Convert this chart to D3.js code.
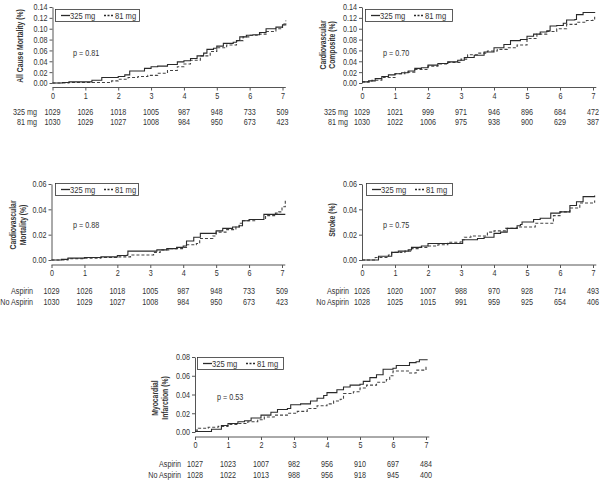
<!DOCTYPE html>
<html><head><meta charset="utf-8">
<script src="https://cdn.jsdelivr.net/npm/d3@7"></script>
<style>
body{margin:0;background:#fff;}
text{font-family:"Liberation Sans",Arial,sans-serif;fill:#333;}
</style></head>
<body><svg id="c" width="602" height="480"></svg>
<script>
const xTicks = [0,1,2,3,4,5,6,7];
const seriesNames = ["325 mg","81 mg"];

// All cause mortality
const acm325 = [[0,0],[0.3,0.001],[0.5,0.002],[1.0,0.002],[1.2,0.005],[1.5,0.01],[1.8,0.01],[2.0,0.012],[2.2,0.015],[2.35,0.022],[2.6,0.022],[2.8,0.027],[3.0,0.03],[3.2,0.031],[3.5,0.034],[3.8,0.039],[4.0,0.041],[4.2,0.045],[4.4,0.05],[4.6,0.055],[4.7,0.062],[4.9,0.064],[5.0,0.068],[5.2,0.073],[5.5,0.075],[5.6,0.078],[5.7,0.085],[5.9,0.088],[6.1,0.089],[6.3,0.093],[6.5,0.1],[6.8,0.103],[7.0,0.107],[7.05,0.11]];
const acm81 = [[0,0],[0.5,0.001],[1.5,0.001],[1.8,0.004],[2.0,0.007],[2.3,0.01],[2.6,0.012],[2.9,0.014],[3.2,0.018],[3.5,0.023],[3.8,0.03],[4.0,0.035],[4.2,0.042],[4.5,0.05],[4.8,0.058],[5.0,0.065],[5.3,0.07],[5.6,0.078],[5.8,0.085],[6.0,0.088],[6.3,0.09],[6.5,0.095],[6.8,0.1],[7.0,0.107],[7.1,0.115]];
const acmRisk325 = [1029,1026,1018,1005,987,948,733,509];
const acmRisk81  = [1030,1029,1027,1008,984,950,673,423];

// Cardiovascular composite
const cvc325 = [[0,0.002],[0.2,0.004],[0.4,0.008],[0.6,0.012],[0.8,0.015],[1.0,0.017],[1.2,0.019],[1.4,0.022],[1.6,0.027],[1.8,0.028],[2.0,0.033],[2.3,0.036],[2.6,0.039],[2.9,0.042],[3.1,0.047],[3.4,0.051],[3.7,0.057],[4.0,0.065],[4.3,0.071],[4.5,0.078],[4.8,0.08],[5.0,0.086],[5.2,0.09],[5.4,0.094],[5.6,0.096],[5.7,0.105],[5.9,0.106],[6.1,0.11],[6.2,0.116],[6.45,0.117],[6.5,0.126],[6.7,0.13],[7.05,0.129]];
const cvc81 = [[0,0.002],[0.3,0.005],[0.6,0.01],[1.0,0.017],[1.3,0.02],[1.6,0.025],[2.0,0.031],[2.3,0.035],[2.6,0.038],[3.0,0.044],[3.2,0.052],[3.5,0.055],[3.8,0.059],[4.1,0.062],[4.4,0.065],[4.7,0.07],[5.0,0.082],[5.3,0.09],[5.6,0.095],[5.9,0.1],[6.2,0.108],[6.5,0.112],[6.8,0.115],[7.0,0.116],[7.05,0.122]];
const cvcRisk325 = [1029,1021,999,971,946,896,684,472];
const cvcRisk81  = [1030,1022,1006,975,938,900,629,387];

// Cardiovascular mortality
const cvm325 = [[0,0],[0.3,0.0005],[0.5,0.0015],[1.0,0.002],[1.5,0.0025],[2.0,0.0035],[2.3,0.004],[2.32,0.007],[3.0,0.007],[3.2,0.008],[3.5,0.009],[3.8,0.01],[4.0,0.011],[4.1,0.015],[4.3,0.015],[4.32,0.018],[4.5,0.018],[4.52,0.021],[4.8,0.021],[5.0,0.023],[5.2,0.025],[5.5,0.026],[5.7,0.027],[5.8,0.031],[6.0,0.032],[6.4,0.032],[6.45,0.036],[7.1,0.036]];
const cvm81 = [[0,0],[0.5,0.001],[1.0,0.0015],[1.5,0.002],[2.0,0.0025],[2.4,0.004],[3.0,0.004],[3.1,0.006],[3.3,0.008],[3.6,0.009],[4.0,0.01],[4.1,0.012],[4.4,0.013],[4.5,0.017],[4.9,0.019],[5.0,0.022],[5.3,0.024],[5.6,0.026],[5.7,0.029],[5.8,0.031],[6.2,0.032],[6.5,0.035],[6.8,0.037],[6.9,0.038],[7.0,0.042],[7.1,0.047]];
const cvmRiskA  = [1029,1026,1018,1005,987,948,733,509];
const cvmRiskNA = [1030,1029,1027,1008,984,950,673,423];

// Stroke
const str325 = [[0,0],[0.5,0.003],[0.9,0.006],[1.1,0.007],[1.4,0.008],[1.5,0.01],[1.8,0.011],[2.0,0.013],[3.0,0.013],[3.05,0.016],[3.5,0.017],[3.7,0.018],[4.0,0.021],[4.2,0.022],[4.4,0.025],[4.7,0.027],[4.8,0.028],[4.85,0.03],[5.1,0.03],[5.2,0.032],[5.4,0.033],[5.7,0.033],[5.72,0.037],[5.9,0.037],[6.0,0.038],[6.3,0.043],[6.5,0.046],[6.7,0.05],[7.05,0.051]];
const str81 = [[0,0],[0.4,0.002],[0.6,0.002],[0.8,0.004],[0.9,0.006],[1.3,0.007],[1.5,0.009],[1.7,0.01],[2.0,0.011],[2.3,0.012],[2.6,0.014],[3.0,0.016],[3.1,0.018],[3.3,0.019],[3.8,0.022],[4.0,0.023],[4.35,0.025],[4.7,0.026],[5.25,0.029],[5.8,0.035],[6.0,0.038],[6.3,0.041],[6.6,0.045],[7.0,0.045],[7.05,0.047]];
const strRiskA  = [1026,1020,1007,988,970,928,714,493];
const strRiskNA = [1028,1025,1015,991,959,925,654,406];

// Myocardial infarction
const mi325 = [[0,0.0005],[0.3,0.0005],[0.5,0.003],[0.8,0.007],[1.0,0.009],[1.3,0.011],[1.5,0.012],[1.7,0.015],[2.0,0.018],[2.3,0.021],[2.5,0.024],[2.8,0.025],[2.9,0.029],[3.2,0.03],[3.5,0.033],[3.7,0.036],[3.9,0.039],[4.0,0.042],[4.3,0.045],[4.5,0.048],[4.7,0.05],[5.0,0.051],[5.1,0.054],[5.3,0.058],[5.5,0.061],[5.7,0.067],[6.0,0.068],[6.1,0.071],[6.4,0.071],[6.5,0.074],[6.7,0.075],[6.8,0.077],[7.05,0.077]];
const mi81 = [[0,0.002],[0.1,0.004],[0.4,0.005],[0.7,0.006],[1.0,0.008],[1.3,0.009],[1.6,0.011],[1.9,0.013],[2.1,0.016],[2.4,0.018],[2.8,0.02],[3.1,0.022],[3.4,0.025],[3.7,0.028],[4.0,0.03],[4.2,0.033],[4.4,0.035],[4.5,0.041],[4.8,0.043],[5.0,0.047],[5.2,0.05],[5.5,0.053],[5.8,0.056],[5.9,0.06],[6.0,0.065],[6.3,0.065],[6.5,0.063],[6.7,0.066],[7.0,0.069],[7.05,0.07]];
const miRiskA  = [1027,1023,1007,982,956,910,697,484];
const miRiskNA = [1028,1022,1013,988,956,918,945,400];

const yTicks014 = [0,0.02,0.04,0.06,0.08,0.10,0.12,0.14];
const yTicks006 = [0,0.02,0.04,0.06];
const yTicks008 = [0,0.02,0.04,0.06,0.08];

const svg = d3.select("#c");
const SX = 0.8; // narrow-font emulation

function T(g, x, y, str, size, anchor, rot, bold) {
  return g.append("text")
    .attr("transform", `translate(${x},${y})` + (rot ? " rotate(-90)" : "") + ` scale(${SX},1)`)
    .attr("text-anchor", anchor || "start").attr("dy", "0.35em")
    .attr("font-size", size).attr("font-weight", bold ? "bold" : "normal").text(str);
}

const panels = [
  {title:["All Cause Mortality (%)"], titleX:[20], titleY:46, s325:acm325, s81:acm81, r1:acmRisk325, r2:acmRisk81, rl:["325 mg","81 mg"],
   left:52.5, x7:282.5, zero:83, top:7, ymax:0.14, yt:yTicks014, axisY:87.5, rowY:[112,122], labR:37, leg:[55,9,84,12], p:"p = 0.81", pX:73, pY:53},
  {title:["Cardiovascular","Composite (%)"], titleX:[323,332], titleY:45, s325:cvc325, s81:cvc81, r1:cvcRisk325, r2:cvcRisk81, rl:["325 mg","81 mg"],
   left:362, x7:593, zero:83, top:7, ymax:0.14, yt:yTicks014, axisY:87.5, rowY:[112,122], labR:348, leg:[365,9,87,12], p:"p = 0.70", pX:383, pY:53},
  {title:["Cardiovascular","Mortality (%)"], titleX:[13,23], titleY:225, s325:cvm325, s81:cvm81, r1:cvmRiskA, r2:cvmRiskNA, rl:["Aspirin","No Aspirin"],
   left:51.5, x7:282, zero:260, top:184, ymax:0.06, yt:yTicks006, axisY:265, rowY:[291,301.5], labR:33, leg:[55,183,83,12], p:"p = 0.88", pX:73, pY:225},
  {title:["Stroke (%)"], titleX:[332], titleY:220, s325:str325, s81:str81, r1:strRiskA, r2:strRiskNA, rl:["Aspirin","No Aspirin"],
   left:362, x7:593, zero:260, top:184, ymax:0.06, yt:yTicks006, axisY:265, rowY:[291,301.5], labR:349, leg:[366,183,86,12], p:"p = 0.75", pX:383, pY:225},
  {title:["Myocardial","Infarction (%)"], titleX:[155,165], titleY:398, s325:mi325, s81:mi81, r1:miRiskA, r2:miRiskNA, rl:["Aspirin","No Aspirin"],
   left:195, x7:426, zero:432, top:357, ymax:0.08, yt:yTicks008, axisY:437, rowY:[464,475], labR:181, leg:[197,357,86,12], p:"p = 0.53", pX:217, pY:397}
];

const ink = "#2a2a2a";
panels.forEach(P => {
  const g = svg.append("g");
  const x = d3.scaleLinear().domain([0,7]).range([P.left, P.x7]);
  const y = d3.scaleLinear().domain([0,P.ymax]).range([P.zero, P.top]);

  // y axis
  const ya = g.append("g").attr("transform",`translate(${P.left},0)`)
    .call(d3.axisLeft(y).tickValues(P.yt).tickFormat(d3.format(".2f")).tickSize(3).tickSizeOuter(0));
  ya.select(".domain").attr("stroke","#555");
  ya.selectAll(".tick line").attr("stroke","#555");
  ya.selectAll("text").attr("font-size",9).attr("x",-5/SX).attr("transform",`scale(${SX},1)`).style("fill","#333").style("font-family","Liberation Sans, Arial, sans-serif");

  // x axis
  const xa = g.append("g").attr("transform",`translate(0,${P.axisY})`)
    .call(d3.axisBottom(x).tickValues(xTicks).tickFormat(d3.format("d")).tickSize(3).tickSizeOuter(0));
  xa.select(".domain").attr("d",`M${x(0)},0H${x(7.1)}`).attr("stroke","#555");
  xa.selectAll(".tick line").attr("stroke","#555");
  xa.selectAll("text").attr("font-size",9).attr("y",5).attr("transform",`scale(${SX},1)`).style("fill","#333").style("font-family","Liberation Sans, Arial, sans-serif");

  // title
  P.title.forEach((t,i)=>{ T(g, P.titleX[i], P.titleY, t, 8.5, "middle", true, true); });

  // curves
  const line = d3.line().x(d=>x(d[0])).y(d=>y(d[1])).curve(d3.curveStepAfter);
  g.append("path").datum(P.s81).attr("d",line).attr("fill","none").attr("stroke","#444").attr("stroke-width",1.1).attr("stroke-dasharray","3,2");
  g.append("path").datum(P.s325).attr("d",line).attr("fill","none").attr("stroke",ink).attr("stroke-width",1.1);

  // legend
  const [lx,ly,lw,lh] = P.leg;
  g.append("rect").attr("x",lx+0.5).attr("y",ly+0.5).attr("width",lw).attr("height",lh).attr("fill","#fff").attr("stroke","#333").attr("stroke-width",0.8);
  const cy = ly+lh/2+0.5;
  g.append("line").attr("x1",lx+6).attr("x2",lx+15).attr("y1",cy).attr("y2",cy).attr("stroke",ink).attr("stroke-width",1.3);
  T(g, lx+15, cy, seriesNames[0], 9.5, "start");
  g.append("line").attr("x1",lx+49).attr("x2",lx+58).attr("y1",cy).attr("y2",cy).attr("stroke",ink).attr("stroke-width",1.3).attr("stroke-dasharray","2,1.5");
  T(g, lx+60, cy, seriesNames[1], 9.5, "start");

  // p value
  T(g, P.pX, P.pY, P.p, 9, "start");

  // risk table
  [P.r1,P.r2].forEach((row,ri)=>{
    T(g, P.labR, P.rowY[ri], P.rl[ri], 9, "end");
    row.forEach((v,i)=>{ T(g, x(xTicks[i]), P.rowY[ri], v, 9, "middle"); });
  });
});
</script></body></html>
